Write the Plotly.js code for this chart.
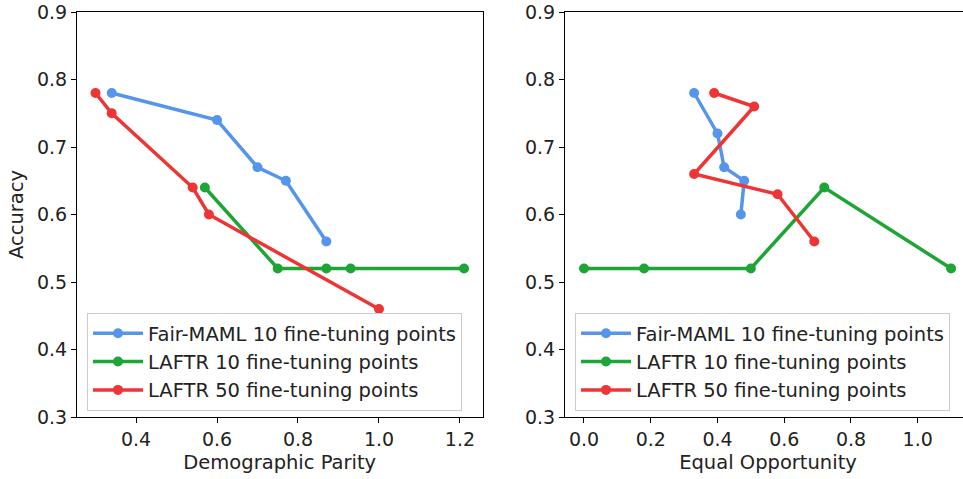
<!DOCTYPE html>
<html>
<head>
<meta charset="utf-8">
<script src="https://cdn.plot.ly/plotly-3.0.1.min.js"></script>
<style>
html,body{margin:0;padding:0;overflow:hidden;background:#fff;}
#chart{width:975px;height:479px;}
</style>
</head>
<body>
<div id="chart"></div>
<script>
// Demographic Parity panel
const dpFairMamlX = [0.34, 0.60, 0.70, 0.77, 0.87];
const dpFairMamlY = [0.78, 0.74, 0.67, 0.65, 0.56];
const dpLaftr10X = [0.57, 0.75, 0.87, 0.93, 1.21];
const dpLaftr10Y = [0.64, 0.52, 0.52, 0.52, 0.52];
const dpLaftr50X = [0.30, 0.34, 0.54, 0.58, 1.00];
const dpLaftr50Y = [0.78, 0.75, 0.64, 0.60, 0.46];
// Equal Opportunity panel
const eoFairMamlX = [0.33, 0.40, 0.42, 0.48, 0.47];
const eoFairMamlY = [0.78, 0.72, 0.67, 0.65, 0.60];
const eoLaftr10X = [0.00, 0.18, 0.50, 0.72, 1.10];
const eoLaftr10Y = [0.52, 0.52, 0.52, 0.64, 0.52];
const eoLaftr50X = [0.39, 0.51, 0.33, 0.58, 0.69];
const eoLaftr50Y = [0.78, 0.76, 0.66, 0.63, 0.56];

const seriesNames = ["Fair-MAML 10 fine-tuning points", "LAFTR 10 fine-tuning points", "LAFTR 50 fine-tuning points"];
const yTicks = [0.3, 0.4, 0.5, 0.6, 0.7, 0.8, 0.9];
const dpTicks = [0.4, 0.6, 0.8, 1.0, 1.2];
const eoTicks = [0.0, 0.2, 0.4, 0.6, 0.8, 1.0];

const colors = ["#5595EC", "#1EA535", "#EE3535"];
const W = 975, H = 479;
const font = "DejaVu Sans, sans-serif";
const txt = "#222";

function tr(x, y, i, xa, ya, lg) {
  return {
    x: x, y: y, type: "scatter", mode: "lines+markers", name: seriesNames[i],
    xaxis: xa, yaxis: ya, legend: lg,
    line: {color: colors[i], width: 3.5},
    marker: {color: colors[i], size: 10}
  };
}

const data = [
  tr(dpFairMamlX, dpFairMamlY, 0, "x", "y", "legend"),
  tr(dpLaftr10X, dpLaftr10Y, 1, "x", "y", "legend"),
  tr(dpLaftr50X, dpLaftr50Y, 2, "x", "y", "legend"),
  tr(eoFairMamlX, eoFairMamlY, 0, "x2", "y2", "legend2"),
  tr(eoLaftr10X, eoLaftr10Y, 1, "x2", "y2", "legend2"),
  tr(eoLaftr50X, eoLaftr50Y, 2, "x2", "y2", "legend2")
];

const yDom = [1 - 417 / H, 1 - 12 / H];
const axBase = {
  showline: true, linecolor: "#000", linewidth: 1, mirror: true,
  ticks: "outside", ticklen: 5, tickcolor: "#000", tickwidth: 1,
  showgrid: false, zeroline: false,
  tickfont: {family: font, size: 19, color: txt},
  tickmode: "array"
};
const legBase = {
  bgcolor: "rgba(255,255,255,0.8)", bordercolor: "#cccccc", borderwidth: 1,
  font: {family: font, size: 19.5, color: txt},
  xanchor: "left", yanchor: "bottom", tracegroupgap: 0, itemwidth: 50
};

const layout = {
  width: W, height: H,
  margin: {l: 0, r: 0, t: 0, b: 0},
  paper_bgcolor: "#fff", plot_bgcolor: "#fff",
  font: {family: font},
  xaxis: Object.assign({}, axBase, {
    domain: [77 / W, 482.5 / W], range: [0.2543, 1.2556], anchor: "y",
    tickvals: dpTicks, ticktext: dpTicks.map(v => v.toFixed(1)),
    title: {text: "Demographic Parity", font: {family: font, size: 19.5, color: txt}, standoff: 6}
  }),
  yaxis: Object.assign({}, axBase, {
    domain: yDom, range: [0.3, 0.9], anchor: "x",
    tickvals: yTicks, ticktext: yTicks.map(v => v.toFixed(1)),
    title: {text: "Accuracy", font: {family: font, size: 19.5, color: txt}, standoff: 8}
  }),
  xaxis2: Object.assign({}, axBase, {
    domain: [565 / W, 971 / W], range: [-0.0569, 1.1596], anchor: "y2",
    tickvals: eoTicks, ticktext: eoTicks.map(v => v.toFixed(1)),
    title: {text: "Equal Opportunity", font: {family: font, size: 19.5, color: txt}, standoff: 6}
  }),
  yaxis2: Object.assign({}, axBase, {
    domain: yDom, range: [0.3, 0.9], anchor: "x2",
    tickvals: yTicks, ticktext: yTicks.map(v => v.toFixed(1))
  }),
  legend: Object.assign({}, legBase, {x: 87 / W, y: 1 - 411 / H}),
  legend2: Object.assign({}, legBase, {x: 575 / W, y: 1 - 411 / H}),
  showlegend: true
};

Plotly.newPlot("chart", data, layout, {staticPlot: true, displayModeBar: false});
</script>
</body>
</html>
